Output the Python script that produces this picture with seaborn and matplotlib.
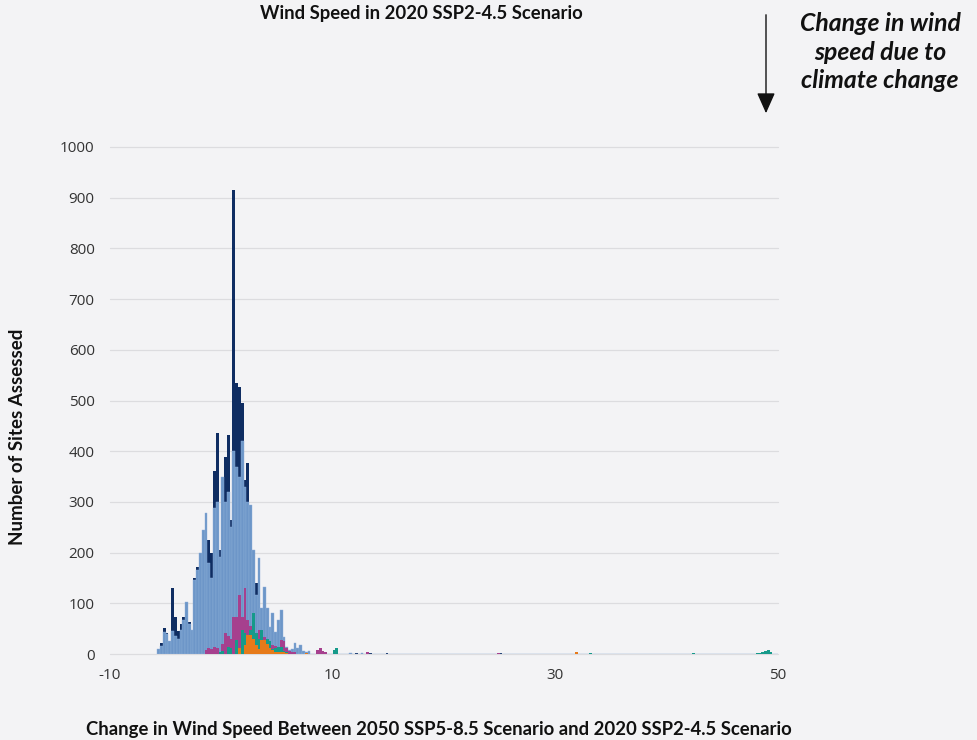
import numpy as np
import pandas as pd
import matplotlib
matplotlib.use("Agg")
import matplotlib.pyplot as plt
import seaborn as sns

# Bin centres (0.25 m/s bins) for the main body of the distribution
centers = [-5.625 + 0.25 * i for i in range(52)]

# Counts per bin for each site group in the main body
navy_counts = [6, 22, 51, 42, 20, 130, 73, 45, 60, 72,
               50, 64, 40, 150, 172, 175, 200, 250, 225, 200,
               360, 436, 205, 260, 389, 432, 264, 915, 535, 527,
               495, 343, 377, 200, 150, 140, 100, 70, 80, 60,
               30, 40, 25, 30, 30, 15, 8, 4, 5, 6,
               5, 4]
lightblue_counts = [10, 15, 43, 40, 26, 45, 36, 30, 48, 68,
                    103, 60, 47, 145, 165, 200, 245, 278, 180, 150,
                    288, 300, 191, 349, 300, 320, 250, 400, 369, 350,
                    420, 330, 300, 294, 205, 116, 189, 91, 132, 91,
                    53, 81, 43, 67, 87, 34, 14, 8, 10, 21,
                    12, 18]
magenta_counts = [0, 0, 0, 0, 0, 0, 0, 0, 0, 0,
                  0, 0, 0, 0, 0, 0, 0, 8, 12, 10,
                  14, 12, 0, 20, 41, 35, 30, 73, 73, 116,
                  73, 130, 67, 55, 41, 25, 47, 0, 34, 30,
                  15, 18, 15, 10, 28, 25, 12, 6, 4, 3,
                  0, 0]
teal_counts = [0, 0, 0, 0, 0, 0, 0, 0, 0, 0,
               0, 0, 0, 0, 0, 0, 0, 0, 0, 0,
               0, 0, 4, 6, 0, 14, 12, 0, 28, 0,
               47, 41, 38, 47, 81, 41, 30, 47, 28, 30,
               25, 10, 12, 14, 14, 6, 4, 0, 0, 0,
               0, 0]
orange_counts = [0, 0, 0, 0, 0, 0, 0, 0, 0, 0,
                 0, 0, 0, 0, 0, 0, 0, 0, 0, 0,
                 0, 0, 0, 0, 0, 0, 0, 0, 0, 12,
                 0, 18, 37, 37, 30, 18, 10, 28, 28, 20,
                 12, 8, 4, 4, 3, 3, 2, 0, 0, 0,
                 0, 0]

# Sparse long tail of the distribution (bin centre, count)
navy_tail_x = [12.125, 13.375, 14.875, 25.125]
navy_tail_n = [1, 1, 1, 1]
lightblue_tail_x = [7.375, 7.625, 7.875, 11.625, 12.625]
lightblue_tail_n = [6, 4, 5, 2, 2]
magenta_tail_x = [8.625, 8.875, 9.125, 9.375, 13.125, 24.875]
magenta_tail_n = [8, 12, 6, 3, 3, 2]
teal_tail_x = [10.125, 10.375, 33.125, 42.375, 48.125, 48.375, 48.625,
               48.875, 49.125, 49.375]
teal_tail_n = [8, 12, 2, 2, 2, 2, 3, 6, 8, 4]
orange_tail_x = [7.625, 31.875]
orange_tail_n = [2, 3]

x_ticks = [-10, 10, 30, 50]
y_ticks = [0, 100, 200, 300, 400, 500, 600, 700, 800, 900, 1000]

BG = "#f3f3f5"
sns.set_theme(style="white")
plt.rcParams["font.family"] = ["Lato", "DejaVu Sans"]
plt.rcParams["figure.facecolor"] = BG
plt.rcParams["axes.facecolor"] = BG
plt.rcParams["savefig.facecolor"] = BG

fig = plt.figure(figsize=(9.77, 7.40), dpi=100)
ax = fig.add_axes([110 / 977, 86 / 740, 668 / 977, 507 / 740])

edges = [float(e) for e in np.arange(-5.75, 50.001, 0.25)]

layers = [
    (navy_counts, navy_tail_x, navy_tail_n, "#0f2d62", None),
    (lightblue_counts, lightblue_tail_x, lightblue_tail_n, "#6d96c8", "#8eafd9"),
    (magenta_counts, magenta_tail_x, magenta_tail_n, "#a6408e", None),
    (teal_counts, teal_tail_x, teal_tail_n, "#169a8a", None),
    (orange_counts, orange_tail_x, orange_tail_n, "#e67a1a", None),
]
for counts, tx, tn, color, edge in layers:
    df = pd.DataFrame({"change": list(centers) + list(tx),
                       "sites": list(counts) + list(tn)})
    sns.histplot(data=df, x="change", weights="sites", bins=edges, ax=ax,
                 color=color, alpha=1, element="bars", stat="count",
                 edgecolor=edge if edge else color,
                 linewidth=0.3 if edge else 0)

ax.set_xlim(-10, 50)
ax.set_ylim(0, 1000)
ax.set_xticks(x_ticks)
ax.set_yticks(y_ticks)
ax.set_xticklabels([str(v) for v in x_ticks])
ax.set_yticklabels([str(v) for v in y_ticks])
ax.yaxis.grid(True, color="#dcdcdf", linewidth=0.9, clip_on=False)
ax.set_axisbelow(True)
for s in ax.spines.values():
    s.set_visible(False)
ax.tick_params(axis="both", length=0, labelsize=11, labelcolor="#333333",
               labelfontfamily="Open Sans")
ax.tick_params(axis="y", pad=11)
ax.tick_params(axis="x", pad=10)
ax.set_xlabel("")
ax.set_ylabel("")

fig.text(421 / 977, 1 - 14 / 740, "Wind Speed in 2020 SSP2-4.5 Scenario",
         ha="center", va="center", fontsize=13.3, fontweight="bold",
         color="#111111")
fig.text(439 / 977, 1 - 730 / 740,
         "Change in Wind Speed Between 2050 SSP5-8.5 Scenario and 2020 SSP2-4.5 Scenario",
         ha="center", va="center", fontsize=13.3, fontweight="bold",
         color="#111111")
fig.text(18 / 977, 1 - 437 / 740, "Number of Sites Assessed", rotation=90,
         ha="center", va="center", fontsize=13.5, fontweight="bold",
         color="#111111")
fig.text(880 / 977, 1 - 52 / 740, "Change in wind\nspeed due to\nclimate change",
         ha="center", va="center", fontsize=17.8, fontweight="bold",
         fontstyle="italic", color="#111111", linespacing=1.3)
fig.add_artist(matplotlib.patches.FancyArrowPatch(
    (766 / 977, 1 - 12 / 740), (766 / 977, 1 - 116 / 740),
    transform=fig.transFigure, arrowstyle="-|>,head_length=0.9,head_width=0.4",
    mutation_scale=14, color="#111111", linewidth=1.0))

fig.savefig("out.png", dpi=100)
